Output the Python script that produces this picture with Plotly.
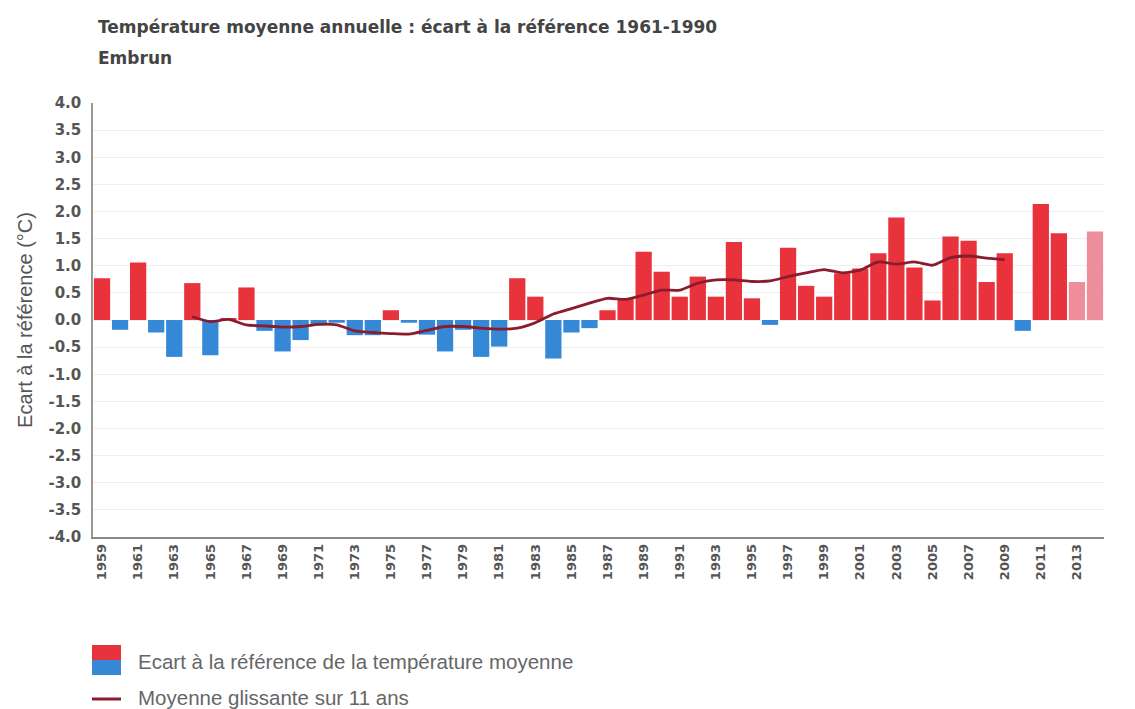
import plotly.graph_objects as go

years = list(range(1959, 2015))
ecart = [0.77, -0.18, 1.06, -0.23, -0.68, 0.68, -0.65, 0.03, 0.60, -0.20,
         -0.58, -0.37, -0.10, -0.05, -0.28, -0.28, 0.18, -0.05, -0.27, -0.58,
         -0.18, -0.68, -0.49, 0.77, 0.43, -0.71, -0.23, -0.15, 0.18, 0.40,
         1.26, 0.89, 0.43, 0.80, 0.43, 1.44, 0.40, -0.09, 1.33, 0.63,
         0.43, 0.86, 0.95, 1.23, 1.89, 0.97, 0.36, 1.54, 1.46, 0.70,
         1.23, -0.20, 2.14, 1.60, 0.70, 1.63]
provisoire = [2013, 2014]

ma_years = list(range(1964, 2010))
ma_values = [0.06, -0.03, 0.01, -0.09, -0.11, -0.13, -0.12, -0.08, -0.09, -0.20,
             -0.23, -0.25, -0.26, -0.19, -0.12, -0.12, -0.15, -0.17, -0.15, -0.05,
             0.11, 0.21, 0.31, 0.40, 0.38, 0.46, 0.55, 0.55, 0.68, 0.74,
             0.74, 0.71, 0.72, 0.80, 0.87, 0.93, 0.87, 0.92, 1.07, 1.03,
             1.07, 1.01, 1.15, 1.18, 1.14, 1.11]

y_ticks = [-4.0, -3.5, -3.0, -2.5, -2.0, -1.5, -1.0, -0.5, 0.0, 0.5, 1.0, 1.5, 2.0, 2.5, 3.0, 3.5, 4.0]
x_ticks = list(range(1959, 2015, 2))

RED = "#e8323c"
PINK = "#ee8e9b"
BLUE = "#3588d6"
LINE = "#8b1c2e"

colors = []
for y, v in zip(years, ecart):
    if y in provisoire:
        colors.append(PINK)
    elif v >= 0:
        colors.append(RED)
    else:
        colors.append(BLUE)

# page body has an 8px default margin -> compensate
OFF = 8
W, H = 1135 - OFF, 709 - OFF
PL, PR, PT, PB = 93, 1104, 103, 537  # plot area in reference pixel coords
ML = PL - OFF
MT = PT - OFF
MR = W - (PR - OFF)
MB = H - (PB - OFF)

fig = go.Figure()
fig.add_trace(go.Bar(x=years, y=ecart, marker=dict(color=colors, line=dict(width=0)),
                     name="Ecart à la référence de la température moyenne", showlegend=False))
fig.add_trace(go.Scatter(x=ma_years, y=ma_values, mode="lines",
                         line=dict(color=LINE, width=2.8, shape="spline", smoothing=0.6),
                         name="Moyenne glissante sur 11 ans", showlegend=False))

TICKFONT = "DejaVu Sans, Verdana, sans-serif"
fig.update_layout(
    width=W, height=H,
    margin=dict(l=ML, r=MR, t=MT, b=MB),
    paper_bgcolor="white", plot_bgcolor="white",
    bargap=0.1,
    font=dict(family="Liberation Sans, Arial, sans-serif", color="#444"),
    showlegend=False,
    xaxis=dict(range=[1958.5, 2014.5], tickmode="array", tickvals=x_ticks,
               ticktext=[f"<b>{t}</b>" for t in x_ticks], tickangle=-90,
               tickfont=dict(size=13, color="#555", family=TICKFONT),
               showgrid=False, showline=True, linecolor="#888", linewidth=1.5,
               ticks="", zeroline=False, fixedrange=True, automargin=False),
    yaxis=dict(range=[-4.0, 4.0], tickmode="array", tickvals=y_ticks,
               ticktext=[f"<b>{t:.1f}</b>" for t in y_ticks],
               tickfont=dict(size=15, color="#555", family=TICKFONT),
               ticklabelstandoff=7,
               showgrid=True, gridcolor="#eeeeee", gridwidth=1,
               showline=True, linecolor="#999", linewidth=1.5, zeroline=False,
               title=dict(text="Ecart à la référence (°C)", font=dict(size=20, color="#555"), standoff=10),
               ticks="", fixedrange=True, automargin=False),
)


def px_x(px):
    return (px - PL) / (PR - PL)


def px_y(py):
    return (PB - py) / (PB - PT)


TITLEFONT = "DejaVu Sans, Verdana, sans-serif"
# Title and subtitle
fig.add_annotation(text="<b>Température moyenne annuelle : écart à la référence 1961-1990</b>",
                   xref="paper", yref="paper", x=px_x(96), y=px_y(27),
                   xanchor="left", yanchor="middle", showarrow=False,
                   font=dict(size=17, color="#444", family=TITLEFONT))
fig.add_annotation(text="<b>Embrun</b>",
                   xref="paper", yref="paper", x=px_x(96), y=px_y(58),
                   xanchor="left", yanchor="middle", showarrow=False,
                   font=dict(size=17, color="#444", family=TITLEFONT))

# Custom legend (paper coordinates)
fig.add_shape(type="rect", xref="paper", yref="paper",
              x0=px_x(92), x1=px_x(121), y0=px_y(660), y1=px_y(645),
              fillcolor=RED, line=dict(width=0))
fig.add_shape(type="rect", xref="paper", yref="paper",
              x0=px_x(92), x1=px_x(121), y0=px_y(675), y1=px_y(660),
              fillcolor=BLUE, line=dict(width=0))
fig.add_shape(type="line", xref="paper", yref="paper",
              x0=px_x(92), x1=px_x(121), y0=px_y(699), y1=px_y(699),
              line=dict(color=LINE, width=3))
fig.add_annotation(text="Ecart à la référence de la température moyenne",
                   xref="paper", yref="paper", x=px_x(136), y=px_y(661),
                   xanchor="left", yanchor="middle", showarrow=False,
                   font=dict(size=20.5, color="#666"))
fig.add_annotation(text="Moyenne glissante sur 11 ans",
                   xref="paper", yref="paper", x=px_x(136), y=px_y(697),
                   xanchor="left", yanchor="middle", showarrow=False,
                   font=dict(size=20.5, color="#666"))

fig.write_html("out.html")
